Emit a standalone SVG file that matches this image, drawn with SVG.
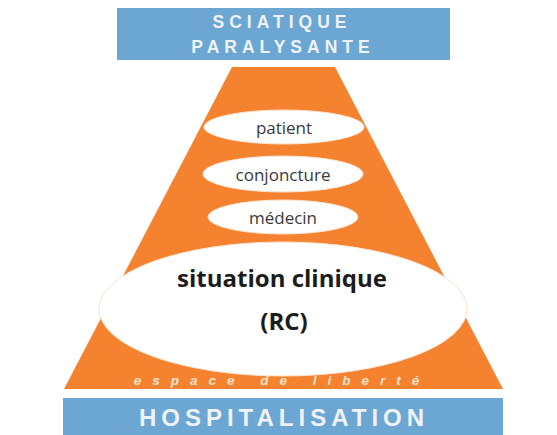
<svg xmlns="http://www.w3.org/2000/svg" width="557" height="435" viewBox="0 0 557 435">
<style>
.blue{fill:#6CA6D3}
.orange{fill:#F5822F}
.ell{fill:#FFFFFF;stroke:#FBE3D0;stroke-width:1}
.t{font-family:"Open Sans","Liberation Sans",sans-serif;fill:#3a3a3a;text-anchor:middle}
.big{font-family:"Open Sans","Liberation Sans",sans-serif;font-weight:bold;fill:#1c1c1c;text-anchor:middle}
.cap{font-family:"Liberation Sans",Arial,sans-serif;font-weight:bold;fill:#EEF3F8;text-anchor:middle}
.lib{font-family:"Liberation Sans",Arial,sans-serif;font-style:italic;font-weight:bold;fill:#FCE2CE;text-anchor:middle}
</style>
<rect width="557" height="435" fill="#FFFFFF"/>
<g id="top">
<rect class="blue" x="117" y="8" width="333" height="52"/>
<text class="cap" x="282" y="28" font-size="17.5" letter-spacing="5">SCIATIQUE</text>
<text class="cap" x="283" y="53" font-size="17.5" letter-spacing="5">PARALYSANTE</text>
</g>
<g id="pyramid">
<polygon class="orange" points="232,67 335,67 503,389 64,389"/>
<text class="lib" x="282" y="385" font-size="13.5" letter-spacing="11">espace de liberté</text>
</g>
<g id="patient">
<ellipse class="ell" cx="284" cy="127" rx="80" ry="17"/>
<text class="t" x="284" y="134" font-size="17">patient</text>
</g>
<g id="conjoncture">
<ellipse class="ell" cx="283" cy="174" rx="80" ry="18"/>
<text class="t" x="283" y="181" font-size="17">conjoncture</text>
</g>
<g id="medecin">
<ellipse class="ell" cx="283" cy="217" rx="75" ry="17"/>
<text class="t" x="283" y="224" font-size="17">médecin</text>
</g>
<g id="situation">
<ellipse class="ell" cx="283" cy="309" rx="184" ry="67"/>
<text class="big" x="282" y="287" font-size="24">situation clinique</text>
<text class="big" x="284" y="330" font-size="24">(RC)</text>
</g>
<g id="bottom">
<rect class="blue" x="63" y="398" width="440" height="37"/>
<text class="cap" x="284" y="426" font-size="24" letter-spacing="5">HOSPITALISATION</text>
</g>
</svg>
